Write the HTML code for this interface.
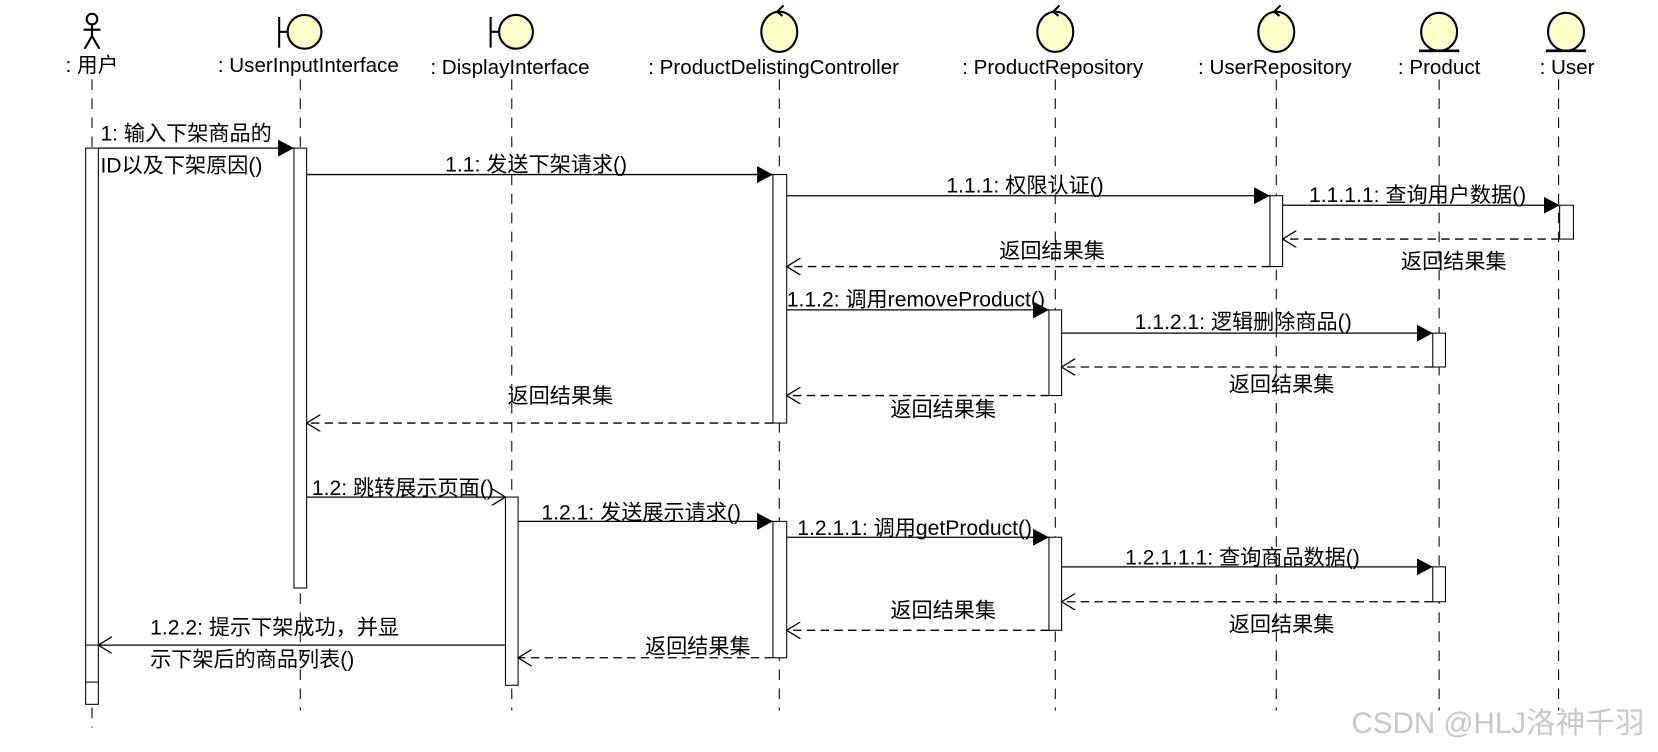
<!DOCTYPE html>
<html><head><meta charset="utf-8"><style>
html,body{margin:0;padding:0;background:#fff;}
svg{display:block;}
text{font-family:"Liberation Sans","Noto Sans CJK SC",sans-serif;font-size:20px;fill:#000;}
.n{font-size:19.5px;}
.ll{stroke:#000;stroke-width:1;stroke-dasharray:10,8;}
.act{fill:#fff;stroke:#000;stroke-width:1;}
.m{stroke:#000;stroke-width:1.2;fill:none;}
.r{stroke:#000;stroke-width:1.2;fill:none;stroke-dasharray:8,5;}
.ic{fill:#ffffcc;stroke:#000;stroke-width:2;}
</style></head><body>
<svg width="1658" height="752" viewBox="0 0 1568 711" xmlns="http://www.w3.org/2000/svg">
<defs>
<marker id="f" markerWidth="16" markerHeight="16" refX="15" refY="8" orient="auto" markerUnits="userSpaceOnUse"><path d="M0,0 L15,8 L0,16 Z" fill="#000"/></marker>
<marker id="o" markerWidth="14" markerHeight="16" refX="13" refY="8" orient="auto" markerUnits="userSpaceOnUse"><path d="M0,0 L13,8 L0,16" fill="none" stroke="#000" stroke-width="1.2"/></marker>
</defs>
<g class="ll">
<line x1="87" y1="75" x2="87" y2="688"/>
<line x1="284" y1="75" x2="284" y2="672"/>
<line x1="484" y1="75" x2="484" y2="672"/>
<line x1="737" y1="75" x2="737" y2="672"/>
<line x1="998" y1="75" x2="998" y2="672"/>
<line x1="1207" y1="75" x2="1207" y2="672"/>
<line x1="1361" y1="75" x2="1361" y2="672"/>
<line x1="1474" y1="75" x2="1474" y2="672"/>
</g>
<g stroke="#000" stroke-width="2" fill="none">
<circle cx="87" cy="18" r="5"/><line x1="87" y1="23" x2="87" y2="34"/><line x1="79" y1="28" x2="95" y2="28"/><line x1="87" y1="34" x2="80" y2="46"/><line x1="87" y1="34" x2="94" y2="46"/>
</g>
<g>
<line x1="264" y1="16" x2="264" y2="45" stroke="#000" stroke-width="2"/><line x1="264" y1="30" x2="272" y2="30" stroke="#000" stroke-width="2"/><ellipse class="ic" cx="288" cy="30" rx="16" ry="16"/>
<line x1="464" y1="16" x2="464" y2="45" stroke="#000" stroke-width="2"/><line x1="464" y1="30" x2="472" y2="30" stroke="#000" stroke-width="2"/><ellipse class="ic" cx="488" cy="30" rx="16" ry="16"/>
<ellipse class="ic" cx="737" cy="30" rx="17" ry="19"/><path d="M735,11 L741,5 M735,11 L740,15" stroke="#000" stroke-width="2"/>
<ellipse class="ic" cx="998" cy="30" rx="17" ry="19"/><path d="M996,11 L1002,5 M996,11 L1001,15" stroke="#000" stroke-width="2"/>
<ellipse class="ic" cx="1207" cy="30" rx="17" ry="19"/><path d="M1205,11 L1211,5 M1205,11 L1210,15" stroke="#000" stroke-width="2"/>
<ellipse class="ic" cx="1361" cy="30" rx="17" ry="18"/><line x1="1342" y1="48" x2="1380" y2="48" stroke="#000" stroke-width="2.5"/>
<ellipse class="ic" cx="1481" cy="30" rx="17" ry="18"/><line x1="1462" y1="48" x2="1500" y2="48" stroke="#000" stroke-width="2.5"/>
</g>
<text class="n" x="62" y="68">: 用户</text>
<text class="n" x="206" y="68">: UserInputInterface</text>
<text class="n" x="407" y="70">: DisplayInterface</text>
<text class="n" x="613" y="70">: ProductDelistingController</text>
<text class="n" x="910" y="70">: ProductRepository</text>
<text class="n" x="1133" y="70">: UserRepository</text>
<text class="n" x="1322" y="70">: Product</text>
<text class="n" x="1456" y="70">: User</text>
<rect class="act" x="81" y="140" width="12" height="526"/>
<line x1="81" y1="610" x2="93" y2="610" stroke="#000"/><line x1="81" y1="645" x2="93" y2="645" stroke="#000"/>
<rect class="act" x="278" y="140" width="12" height="416"/>
<rect class="act" x="478" y="470" width="12" height="178"/>
<rect class="act" x="731" y="165" width="13" height="235"/>
<rect class="act" x="731" y="493" width="13" height="129"/>
<rect class="act" x="992" y="293" width="12" height="81"/>
<rect class="act" x="992" y="508" width="12" height="88"/>
<rect class="act" x="1201" y="185" width="12" height="67"/>
<rect class="act" x="1355" y="315" width="12" height="32"/>
<rect class="act" x="1355" y="536" width="12" height="33"/>
<rect class="act" x="1475" y="194" width="13" height="32"/>
<line class="m" x1="93" y1="140" x2="278" y2="140" marker-end="url(#f)"/>
<text x="95" y="133">1: 输入下架商品的</text><text x="95" y="163">ID以及下架原因()</text>
<line class="m" x1="290" y1="165" x2="731" y2="165" marker-end="url(#f)"/>
<text x="421" y="162">1.1: 发送下架请求()</text>
<line class="m" x1="744" y1="185" x2="1201" y2="185" marker-end="url(#f)"/>
<text x="895" y="182">1.1.1: 权限认证()</text>
<line class="m" x1="1213" y1="194" x2="1475" y2="194" marker-end="url(#f)"/>
<text x="1238" y="191">1.1.1.1: 查询用户数据()</text>
<line class="r" x1="1475" y1="226" x2="1213" y2="226" marker-end="url(#o)"/>
<text x="1325" y="254">返回结果集</text>
<line class="r" x1="1201" y1="252" x2="744" y2="252" marker-end="url(#o)"/>
<text x="945" y="244">返回结果集</text>
<line class="m" x1="744" y1="293" x2="992" y2="293" marker-end="url(#f)"/>
<text x="744" y="290">1.1.2: 调用removeProduct()</text>
<line class="m" x1="1004" y1="315" x2="1355" y2="315" marker-end="url(#f)"/>
<text x="1073" y="311">1.1.2.1: 逻辑删除商品()</text>
<line class="r" x1="1355" y1="347" x2="1004" y2="347" marker-end="url(#o)"/>
<text x="1162" y="370">返回结果集</text>
<line class="r" x1="992" y1="374" x2="744" y2="374" marker-end="url(#o)"/>
<text x="842" y="394">返回结果集</text>
<line class="r" x1="731" y1="400" x2="290" y2="400" marker-end="url(#o)"/>
<text x="480" y="381">返回结果集</text>
<line class="m" x1="290" y1="470" x2="478" y2="470" marker-end="url(#o)"/>
<text x="295" y="468">1.2: 跳转展示页面()</text>
<line class="m" x1="490" y1="493" x2="731" y2="493" marker-end="url(#f)"/>
<text x="512" y="491">1.2.1: 发送展示请求()</text>
<line class="m" x1="744" y1="508" x2="992" y2="508" marker-end="url(#f)"/>
<text x="754" y="506">1.2.1.1: 调用getProduct()</text>
<line class="m" x1="1004" y1="536" x2="1355" y2="536" marker-end="url(#f)"/>
<text x="1064" y="534">1.2.1.1.1: 查询商品数据()</text>
<line class="r" x1="1355" y1="569" x2="1004" y2="569" marker-end="url(#o)"/>
<text x="1162" y="597">返回结果集</text>
<line class="r" x1="992" y1="596" x2="744" y2="596" marker-end="url(#o)"/>
<text x="842" y="584">返回结果集</text>
<line class="r" x1="731" y1="622" x2="490" y2="622" marker-end="url(#o)"/>
<text x="610" y="618">返回结果集</text>
<line class="m" x1="478" y1="610" x2="93" y2="610" marker-end="url(#o)"/>
<text x="142" y="600">1.2.2: 提示下架成功，并显</text>
<text x="142" y="630">示下架后的商品列表()</text>
<text x="1278" y="693" style="font-size:28px;fill:#c8c8c8;">CSDN @HLJ洛神千羽</text>
</svg>
</body></html>
